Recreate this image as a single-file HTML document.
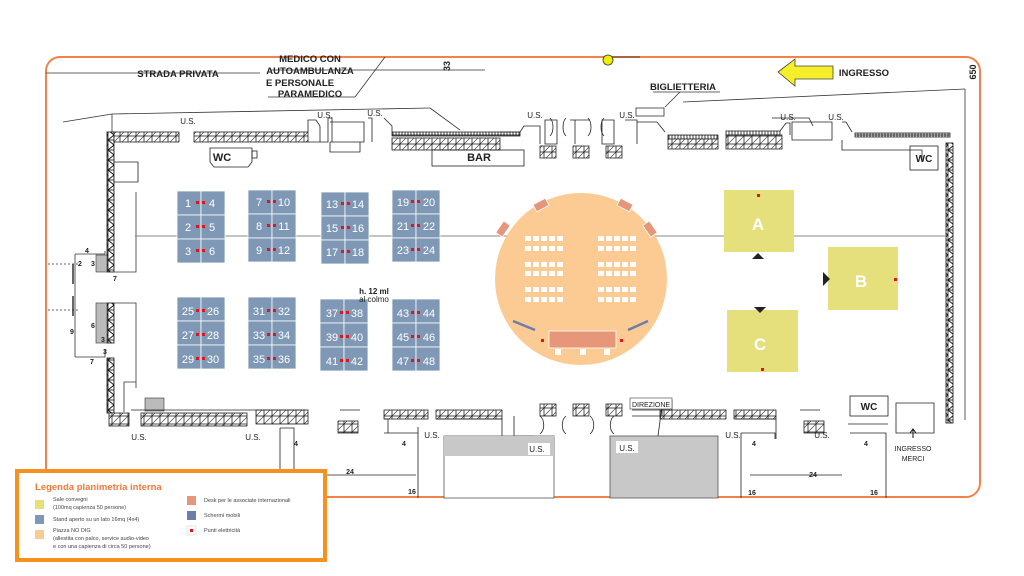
<!DOCTYPE html>
<html><head><meta charset="utf-8"><style>
body{margin:0;background:#fff;width:1024px;height:576px;overflow:hidden}
svg{display:block}
text{font-family:"Liberation Sans",sans-serif}
</style></head><body>
<svg width="1024" height="576" viewBox="0 0 1024 576" xmlns="http://www.w3.org/2000/svg">
<defs>
<pattern id="h" width="8" height="8" patternUnits="userSpaceOnUse"><rect width="8" height="8" fill="#fff" stroke="#222" stroke-width="0.8"/><line x1="0" y1="8" x2="8" y2="0" stroke="#222" stroke-width="0.6"/></pattern>
<pattern id="z" width="6" height="10" patternUnits="userSpaceOnUse"><rect width="6" height="10" fill="#fff" stroke="#111" stroke-width="0.8"/><path d="M0 0L6 5L0 10" fill="none" stroke="#111" stroke-width="0.9"/></pattern>
<pattern id="t" width="3" height="5" patternUnits="userSpaceOnUse"><rect width="3" height="5" fill="#fff" stroke="#111" stroke-width="0.8"/></pattern>
</defs>
<!-- outer orange frame -->
<rect x="46" y="57" width="934" height="440" rx="14" fill="none" stroke="#f0824a" stroke-width="2"/>
<g stroke="#333" stroke-width="0.8" fill="none">
<line x1="46" y1="73" x2="260" y2="73"/><line x1="270" y1="70" x2="485" y2="70"/>
<line x1="268" y1="97" x2="355" y2="97"/><line x1="355" y1="97" x2="385" y2="57"/>
<line x1="63" y1="122" x2="112" y2="114"/><line x1="112" y1="114" x2="430" y2="108"/><line x1="430" y1="108" x2="460" y2="130"/>
<line x1="112" y1="114" x2="112" y2="132"/>
<line x1="653" y1="92" x2="720" y2="92"/><line x1="680" y1="92" x2="665" y2="107"/>
<rect x="636" y="108" width="28" height="8"/>
<line x1="683" y1="102" x2="965" y2="89"/><line x1="965" y1="89" x2="965" y2="420"/>
<line x1="612" y1="57" x2="640" y2="57"/>
</g>
<circle cx="608" cy="60" r="5" fill="#ee0" stroke="#333" stroke-width="0.8"/>
<text x="178" y="77" font-size="9.5" font-weight="bold" fill="#222" text-anchor="middle">STRADA PRIVATA</text>
<g font-size="9.5" font-weight="bold" fill="#222" text-anchor="middle">
<text x="310" y="62">MEDICO CON</text><text x="310" y="74">AUTOAMBULANZA</text><text x="300" y="86">E PERSONALE</text><text x="310" y="97">PARAMEDICO</text>
<text x="683" y="90">BIGLIETTERIA</text>
<text x="864" y="76">INGRESSO</text>
<text x="450" y="66" transform="rotate(-90 450 66)" font-size="9">33</text>
<text x="976" y="72" transform="rotate(-90 976 72)" font-size="9">650</text>
</g>
<polygon points="778,72 795,59 795,66 833,66 833,79 795,79 795,86" fill="#f5ef2a" stroke="#444" stroke-width="0.8"/>
<!-- top wall -->
<rect x="113" y="132" width="66" height="10" fill="url(#h)" stroke="#222" stroke-width="0.8"/>
<rect x="194" y="132" width="114" height="10" fill="url(#h)" stroke="#222" stroke-width="0.8"/>
<rect x="392" y="132" width="128" height="4" fill="url(#t)" stroke="#222" stroke-width="0.8"/>
<rect x="392" y="138" width="108" height="12" fill="url(#h)" stroke="#222" stroke-width="0.8"/>
<rect x="668" y="135" width="50" height="4" fill="url(#t)" stroke="#222" stroke-width="0.8"/>
<rect x="668" y="139" width="50" height="10" fill="url(#h)" stroke="#222" stroke-width="0.8"/>
<rect x="726" y="131" width="54" height="4" fill="url(#t)" stroke="#222" stroke-width="0.8"/>
<rect x="726" y="135" width="56" height="14" fill="url(#h)" stroke="#222" stroke-width="0.8"/>
<rect x="855" y="133" width="95" height="4" fill="url(#t)" stroke="#222" stroke-width="0.8"/>
<g fill="none" stroke="#222" stroke-width="0.8">
<path d="M308 132V120h8l4 6v16h-12M320 142h8V118h4v24M330 122h34v20h-34M368 118h4v24M384 118l8 8v6M113 142h-5"/>
<path d="M500 132h20l4-6h16v18M540 120h0M545 120h12v24h-12zM570 120h20M575 120v24M602 120h12v24h-12zM625 120h12v24M637 122h20l8 10"/>
<path d="M550 118c4 4 4 14 0 18M566 118c-4 4-4 14 0 18M588 118c4 4 4 14 0 18M604 118c-4 4-4 14 0 18"/>
<path d="M780 131l6-8h4v12M792 122h40v18h-40zM842 122h4l6 10M772 118h37l4 8"/>
<rect x="432" y="150" width="92" height="16"/>
<path d="M113 142v20h25v20h-25M330 142v10h30v-10M210 148h42v14l-4 5h-34l-4-5z"/>
<rect x="252" y="151" width="5" height="7"/>
<path d="M842 140v10h80v12"/>
<rect x="910" y="146" width="28" height="24"/>
</g>
<g fill="url(#h)" stroke="#222" stroke-width="0.8">
<rect x="540" y="146" width="16" height="12"/><rect x="573" y="146" width="16" height="12"/><rect x="606" y="146" width="16" height="12"/>
<rect x="540" y="404" width="16" height="12"/><rect x="573" y="404" width="16" height="12"/><rect x="606" y="404" width="16" height="12"/>
</g>
<text x="479" y="161" font-size="11" font-weight="bold" text-anchor="middle" fill="#222">BAR</text>
<text x="222" y="161" font-size="11" font-weight="bold" text-anchor="middle" fill="#222">WC</text>
<text x="924" y="162" font-size="10" font-weight="bold" text-anchor="middle" fill="#222">WC</text>
<g font-size="8" fill="#222" text-anchor="middle">
<text x="188" y="124">U.S.</text><text x="325" y="118">U.S.</text><text x="375" y="116">U.S.</text><text x="535" y="118">U.S.</text><text x="627" y="118">U.S.</text><text x="788" y="120">U.S.</text><text x="836" y="120">U.S.</text>
<text x="139" y="440">U.S.</text><text x="253" y="440">U.S.</text><text x="432" y="438">U.S.</text><text x="733" y="438">U.S.</text><text x="822" y="438">U.S.</text>
</g>
<!-- side walls -->
<rect x="107" y="132" width="7" height="140" fill="url(#z)" stroke="#111" stroke-width="0.8"/>
<rect x="107" y="303" width="7" height="40" fill="url(#z)" stroke="#111" stroke-width="0.8"/>
<rect x="107" y="358" width="7" height="55" fill="url(#z)" stroke="#111" stroke-width="0.8"/>
<rect x="946" y="143" width="7" height="280" fill="url(#z)" stroke="#111" stroke-width="0.8"/>
<rect x="96" y="255" width="11" height="17" fill="#bbb" stroke="#333" stroke-width="0.6"/>
<rect x="96" y="303" width="11" height="40" fill="#bbb" stroke="#333" stroke-width="0.6"/>
<g fill="none" stroke="#333" stroke-width="0.8">
<path d="M114 272h22v-80M114 303h22v85M75 254h30v-3M75 357h30v-8M75 254v103M136 382h-12v30M160 398v5"/>
<path d="M48 264h30M48 310h30" stroke-dasharray="2 2"/>
<path d="M73 264v20M73 296v20" stroke-width="1.5"/>
</g>
<g font-size="7" font-weight="bold" fill="#222">
<text x="85" y="253">4</text><text x="78" y="266">2</text><text x="91" y="266">3</text><text x="113" y="281">7</text>
<text x="91" y="328">6</text><text x="101" y="342">3</text><text x="103" y="354">3</text><text x="70" y="334">9</text><text x="90" y="364">7</text>
</g>
<rect x="145" y="398" width="19" height="13" fill="#bbb" stroke="#333" stroke-width="0.6"/>
<!-- bottom wall -->
<g fill="url(#h)" stroke="#222" stroke-width="0.8">
<rect x="109" y="413" width="20" height="13"/><rect x="141" y="413" width="106" height="13"/><rect x="256" y="410" width="52" height="14"/>
<rect x="384" y="410" width="44" height="9"/><rect x="436" y="410" width="66" height="9"/>
<rect x="660" y="410" width="66" height="9"/><rect x="734" y="410" width="42" height="9"/>
<rect x="338" y="421" width="20" height="12"/><rect x="804" y="421" width="20" height="12"/>
</g>
<g fill="none" stroke="#222" stroke-width="0.8">
<path d="M131 410h175M436 419h66v20l-8 8h-10M384 419h4v14M514 416v20h20M632 416h30v-10l-4 30M736 419h40v20M848 424h40M896 403h38v30h-38z"/>
<path d="M280 428h14v70M280 428v70M384 433h34v-6M418 433v65M741 433h34v6M741 433v65M850 433h36v65M322 475h94M750 475h92"/>
<path d="M540 416c5 4 5 14 0 18M566 416c-5 4-5 14 0 18M590 416c5 4 5 14 0 18M614 416c-5 4-5 14 0 18M556 410h0"/>
<path d="M340 410h20M800 410h20M632 410h40v-10"/>
</g>
<rect x="444" y="436" width="110" height="62" fill="#fff" stroke="#555" stroke-width="0.8"/>
<rect x="444" y="436" width="110" height="20" fill="#c8c8c8"/>
<rect x="610" y="436" width="108" height="62" fill="#c8c8c8" stroke="#555" stroke-width="0.8"/>
<rect x="528" y="443" width="22" height="12" fill="#fff"/><rect x="616" y="441" width="22" height="12" fill="#fff"/>
<text x="537" y="452" font-size="8" fill="#222" text-anchor="middle">U.S.</text>
<text x="627" y="451" font-size="8" fill="#222" text-anchor="middle">U.S.</text>
<rect x="630" y="398" width="42" height="11" fill="#fff" stroke="#555" stroke-width="0.7"/>
<text x="651" y="407" font-size="7" fill="#222" text-anchor="middle">DIREZIONE</text>
<rect x="850" y="396" width="38" height="20" fill="#fff" stroke="#222" stroke-width="0.8"/>
<text x="869" y="410" font-size="10" font-weight="bold" fill="#222" text-anchor="middle">WC</text>
<g font-size="7" font-weight="bold" fill="#222" text-anchor="middle">
<text x="296" y="446">4</text><text x="404" y="446">4</text><text x="754" y="446">4</text><text x="866" y="446">4</text>
<text x="350" y="474">24</text><text x="813" y="477">24</text>
<text x="412" y="494">16</text><text x="752" y="495">16</text><text x="874" y="495">16</text>
</g>
<g font-size="7" fill="#222" text-anchor="middle"><text x="913" y="451">INGRESSO</text><text x="913" y="461">MERCI</text></g>
<path d="M913 438v-8M910 433l3-4 3 4" stroke="#111" fill="none"/>
<!-- center line -->
<line x1="135" y1="236" x2="945" y2="236" stroke="#888" stroke-width="1"/>
<!-- stands -->
<g fill="#7f98b5" stroke="#fff" stroke-width="0.8">
<rect x="177" y="191" width="24" height="24"/><rect x="201" y="191" width="24" height="24"/><rect x="177" y="215" width="24" height="24"/><rect x="201" y="215" width="24" height="24"/><rect x="177" y="239" width="24" height="24"/><rect x="201" y="239" width="24" height="24"/>
<rect x="248" y="190" width="24" height="24"/><rect x="272" y="190" width="24" height="24"/><rect x="248" y="214" width="24" height="24"/><rect x="272" y="214" width="24" height="24"/><rect x="248" y="238" width="24" height="24"/><rect x="272" y="238" width="24" height="24"/>
<rect x="321" y="192" width="24" height="24"/><rect x="345" y="192" width="24" height="24"/><rect x="321" y="216" width="24" height="24"/><rect x="345" y="216" width="24" height="24"/><rect x="321" y="240" width="24" height="24"/><rect x="345" y="240" width="24" height="24"/>
<rect x="392" y="190" width="24" height="24"/><rect x="416" y="190" width="24" height="24"/><rect x="392" y="214" width="24" height="24"/><rect x="416" y="214" width="24" height="24"/><rect x="392" y="238" width="24" height="24"/><rect x="416" y="238" width="24" height="24"/>
<rect x="177" y="297" width="24" height="24"/><rect x="201" y="297" width="24" height="24"/><rect x="177" y="321" width="24" height="24"/><rect x="201" y="321" width="24" height="24"/><rect x="177" y="345" width="24" height="24"/><rect x="201" y="345" width="24" height="24"/>
<rect x="248" y="297" width="24" height="24"/><rect x="272" y="297" width="24" height="24"/><rect x="248" y="321" width="24" height="24"/><rect x="272" y="321" width="24" height="24"/><rect x="248" y="345" width="24" height="24"/><rect x="272" y="345" width="24" height="24"/>
<rect x="320" y="299" width="24" height="24"/><rect x="344" y="299" width="24" height="24"/><rect x="320" y="323" width="24" height="24"/><rect x="344" y="323" width="24" height="24"/><rect x="320" y="347" width="24" height="24"/><rect x="344" y="347" width="24" height="24"/>
<rect x="392" y="299" width="24" height="24"/><rect x="416" y="299" width="24" height="24"/><rect x="392" y="323" width="24" height="24"/><rect x="416" y="323" width="24" height="24"/><rect x="392" y="347" width="24" height="24"/><rect x="416" y="347" width="24" height="24"/>
</g>
<g fill="#e3141b">
<rect x="196" y="201" width="3" height="3"/><rect x="202" y="201" width="3" height="3"/><rect x="196" y="225" width="3" height="3"/><rect x="202" y="225" width="3" height="3"/><rect x="196" y="249" width="3" height="3"/><rect x="202" y="249" width="3" height="3"/>
<rect x="267" y="200" width="3" height="3"/><rect x="273" y="200" width="3" height="3"/><rect x="267" y="224" width="3" height="3"/><rect x="273" y="224" width="3" height="3"/><rect x="267" y="248" width="3" height="3"/><rect x="273" y="248" width="3" height="3"/>
<rect x="341" y="202" width="3" height="3"/><rect x="347" y="202" width="3" height="3"/><rect x="341" y="226" width="3" height="3"/><rect x="347" y="226" width="3" height="3"/><rect x="341" y="250" width="3" height="3"/><rect x="347" y="250" width="3" height="3"/>
<rect x="411" y="200" width="3" height="3"/><rect x="417" y="200" width="3" height="3"/><rect x="411" y="224" width="3" height="3"/><rect x="417" y="224" width="3" height="3"/><rect x="411" y="248" width="3" height="3"/><rect x="417" y="248" width="3" height="3"/>
<rect x="196" y="309" width="3" height="3"/><rect x="202" y="309" width="3" height="3"/><rect x="196" y="333" width="3" height="3"/><rect x="202" y="333" width="3" height="3"/><rect x="196" y="357" width="3" height="3"/><rect x="202" y="357" width="3" height="3"/>
<rect x="267" y="309" width="3" height="3"/><rect x="273" y="309" width="3" height="3"/><rect x="267" y="333" width="3" height="3"/><rect x="273" y="333" width="3" height="3"/><rect x="267" y="357" width="3" height="3"/><rect x="273" y="357" width="3" height="3"/>
<rect x="340" y="311" width="3" height="3"/><rect x="346" y="311" width="3" height="3"/><rect x="340" y="335" width="3" height="3"/><rect x="346" y="335" width="3" height="3"/><rect x="340" y="359" width="3" height="3"/><rect x="346" y="359" width="3" height="3"/>
<rect x="411" y="311" width="3" height="3"/><rect x="417" y="311" width="3" height="3"/><rect x="411" y="335" width="3" height="3"/><rect x="417" y="335" width="3" height="3"/><rect x="411" y="359" width="3" height="3"/><rect x="417" y="359" width="3" height="3"/>
</g>
<g font-size="11" fill="#fff" text-anchor="middle">
<text x="188" y="207">1</text><text x="212" y="207">4</text><text x="188" y="231">2</text><text x="212" y="231">5</text><text x="188" y="255">3</text><text x="212" y="255">6</text>
<text x="259" y="206">7</text><text x="284" y="206">10</text><text x="259" y="230">8</text><text x="284" y="230">11</text><text x="259" y="254">9</text><text x="284" y="254">12</text>
<text x="332" y="208">13</text><text x="358" y="208">14</text><text x="332" y="232">15</text><text x="358" y="232">16</text><text x="332" y="256">17</text><text x="358" y="256">18</text>
<text x="403" y="206">19</text><text x="429" y="206">20</text><text x="403" y="230">21</text><text x="429" y="230">22</text><text x="403" y="254">23</text><text x="429" y="254">24</text>
<text x="188" y="315">25</text><text x="213" y="315">26</text><text x="188" y="339">27</text><text x="213" y="339">28</text><text x="188" y="363">29</text><text x="213" y="363">30</text>
<text x="259" y="315">31</text><text x="284" y="315">32</text><text x="259" y="339">33</text><text x="284" y="339">34</text><text x="259" y="363">35</text><text x="284" y="363">36</text>
<text x="332" y="317">37</text><text x="357" y="317">38</text><text x="332" y="341">39</text><text x="357" y="341">40</text><text x="332" y="365">41</text><text x="357" y="365">42</text>
<text x="403" y="317">43</text><text x="429" y="317">44</text><text x="403" y="341">45</text><text x="429" y="341">46</text><text x="403" y="365">47</text><text x="429" y="365">48</text>
</g>
<text x="374" y="294" font-size="8" font-weight="bold" fill="#222" text-anchor="middle">h. 12 ml</text>
<text x="374" y="302" font-size="8" fill="#222" text-anchor="middle">al colmo</text>
<!-- piazza -->
<circle cx="581" cy="279" r="86" fill="#fccb94"/>
<g fill="#e8967a" stroke="#fff" stroke-width="0.8">
<rect x="-7" y="-4" width="14" height="8" transform="translate(503,229) rotate(-55)"/>
<rect x="-7" y="-4" width="14" height="8" transform="translate(541,205) rotate(-28)"/>
<rect x="-7" y="-4" width="14" height="8" transform="translate(625,205) rotate(28)"/>
<rect x="-7" y="-4" width="14" height="8" transform="translate(650,229) rotate(55)"/>
</g>
<g fill="#fff">
<path d="M525 236h6v5h-6zM533 236h6v5h-6zM541 236h6v5h-6zM549 236h6v5h-6zM557 236h6v5h-6zM525 246h6v5h-6zM533 246h6v5h-6zM541 246h6v5h-6zM549 246h6v5h-6zM557 246h6v5h-6zM525 262h6v5h-6zM533 262h6v5h-6zM541 262h6v5h-6zM549 262h6v5h-6zM557 262h6v5h-6zM525 271h6v5h-6zM533 271h6v5h-6zM541 271h6v5h-6zM549 271h6v5h-6zM557 271h6v5h-6zM525 287h6v5h-6zM533 287h6v5h-6zM541 287h6v5h-6zM549 287h6v5h-6zM557 287h6v5h-6zM525 297h6v5h-6zM533 297h6v5h-6zM541 297h6v5h-6zM549 297h6v5h-6zM557 297h6v5h-6z"/>
<path d="M598 236h6v5h-6zM606 236h6v5h-6zM614 236h6v5h-6zM622 236h6v5h-6zM630 236h6v5h-6zM598 246h6v5h-6zM606 246h6v5h-6zM614 246h6v5h-6zM622 246h6v5h-6zM630 246h6v5h-6zM598 262h6v5h-6zM606 262h6v5h-6zM614 262h6v5h-6zM622 262h6v5h-6zM630 262h6v5h-6zM598 271h6v5h-6zM606 271h6v5h-6zM614 271h6v5h-6zM622 271h6v5h-6zM630 271h6v5h-6zM598 287h6v5h-6zM606 287h6v5h-6zM614 287h6v5h-6zM622 287h6v5h-6zM630 287h6v5h-6zM598 297h6v5h-6zM606 297h6v5h-6zM614 297h6v5h-6zM622 297h6v5h-6zM630 297h6v5h-6z"/>
<rect x="555" y="349" width="6" height="6"/><rect x="580" y="349" width="6" height="6"/><rect x="604" y="349" width="6" height="6"/>
</g>
<rect x="549" y="331" width="67" height="17" fill="#e8967a" stroke="#fff" stroke-width="0.8"/>
<path d="M513 321l22 9M628 330l20-9" stroke="#6d7ea8" stroke-width="2.5"/>
<rect x="541" y="339" width="3" height="3" fill="#e3141b"/><rect x="620" y="339" width="3" height="3" fill="#e3141b"/>
<!-- sale convegni -->
<g fill="#e6e07c"><rect x="724" y="190" width="70" height="62"/><rect x="828" y="247" width="70" height="63"/><rect x="727" y="310" width="71" height="62"/></g>
<g font-size="17" font-weight="bold" fill="#fff" text-anchor="middle"><text x="758" y="230">A</text><text x="861" y="287">B</text><text x="760" y="350">C</text></g>
<g fill="#e3141b"><rect x="757" y="194" width="3" height="3"/><rect x="894" y="278" width="3" height="3"/><rect x="761" y="368" width="3" height="3"/></g>
<g fill="#222"><path d="M752 259h12l-6-6z"/><path d="M754 307h12l-6 6z"/><path d="M823 272v14l7-7z"/></g>
<!-- legend -->
<rect x="17" y="471" width="308" height="89" fill="#fff" stroke="#f7901e" stroke-width="4"/>
<text x="35" y="490" font-size="9.5" font-weight="bold" fill="#f07a3a">Legenda planimetria interna</text>
<rect x="35" y="500" width="9" height="9" fill="#e6e07c"/>
<rect x="35" y="515" width="9" height="9" fill="#7f98b5"/>
<rect x="35" y="530" width="9" height="9" fill="#fccb94"/>
<rect x="187" y="496" width="9" height="9" fill="#e8967a"/>
<rect x="187" y="511" width="9" height="9" fill="#6d7ea8"/>
<rect x="187" y="526" width="9" height="9" fill="#fff" stroke="#ccc" stroke-width="0.5"/><rect x="190" y="529" width="3" height="3" fill="#e3141b"/>
<g font-size="5.5" fill="#444">
<text x="53" y="501">Sale convegni</text><text x="53" y="509">(100mq capienza 50 persone)</text>
<text x="53" y="521">Stand aperto su un lato 16mq (4x4)</text>
<text x="53" y="532">Piazza NO DIG</text><text x="53" y="540">(allestita con palco, service audio-video</text><text x="53" y="548">e con una capienza di circa 50 persone)</text>
<text x="204" y="502">Desk per le associate internazionali</text>
<text x="204" y="517">Schermi mobili</text>
<text x="204" y="532">Punti elettricità</text>
</g>
</svg>
</body></html>
